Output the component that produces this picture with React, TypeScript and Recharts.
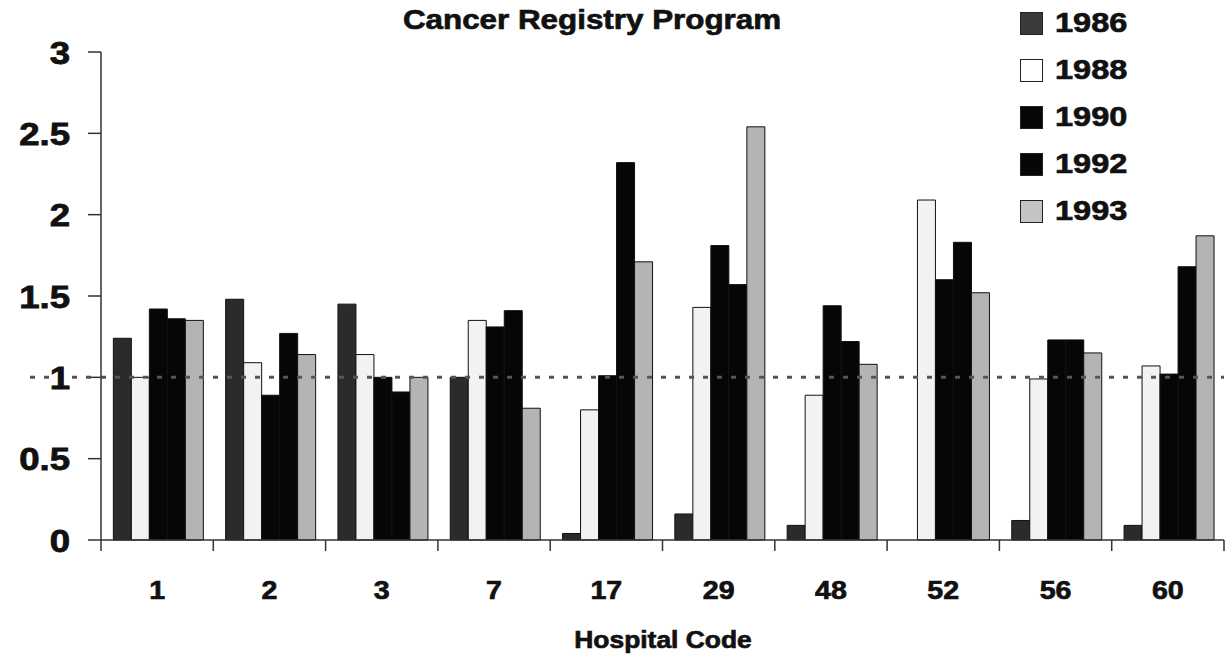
import React from 'react';
import { BarChart, Bar, XAxis, YAxis, ReferenceLine } from 'recharts';

// hospital codes along the x axis
const hospitals = ['1', '2', '3', '7', '17', '29', '48', '52', '56', '60'];
const years = ['1986', '1988', '1990', '1992', '1993'];

// ratio values per survey year
const v1986 = [1.24, 1.48, 1.45, 1.0, 0.04, 0.16, 0.09, 0, 0.12, 0.09];
const v1988 = [1.0, 1.09, 1.14, 1.35, 0.8, 1.43, 0.89, 2.09, 0.99, 1.07];
const v1990 = [1.42, 0.89, 1.0, 1.31, 1.01, 1.81, 1.44, 1.6, 1.23, 1.02];
const v1992 = [1.36, 1.27, 0.91, 1.41, 2.32, 1.57, 1.22, 1.83, 1.23, 1.68];
const v1993 = [1.35, 1.14, 1.0, 0.81, 1.71, 2.54, 1.08, 1.52, 1.15, 1.87];

const yTicks = [0, 0.5, 1, 1.5, 2, 2.5, 3];

const W = 1227;
const H = 658;
const LEFT = 101;
const RIGHT = 3;
const BW = (W - LEFT - RIGHT) / hospitals.length;
const FONT = '"Liberation Sans", Arial, Helvetica, sans-serif';

const fills = ['#2b2b2b', '#f2f2f2', '#060606', '#060606', '#b4b4b4'];
const swatch = ['#3a3a3a', '#ffffff', '#060606', '#060606', '#c4c4c4'];

const data = hospitals.map((h, i) => ({
  hospital: h,
  y1986: v1986[i],
  y1988: v1988[i],
  y1990: v1990[i],
  y1992: v1992[i],
  y1993: v1993[i],
}));

const XTick = (props: any) => {
  const { x, y, payload, index } = props;
  const left = x - BW / 2;
  const right = x + BW / 2;
  return (
    <g>
      <line x1={left} x2={left} y1={y} y2={y + 11} stroke="#333" strokeWidth={1.5} />
      {index === hospitals.length - 1 && (
        <line x1={right} x2={right} y1={y} y2={y + 11} stroke="#333" strokeWidth={1.5} />
      )}
      <text
        transform={`translate(${x},${y + 59}) scale(1.1,1)`}
        textAnchor="middle"
        fontSize={26}
        fontWeight="bold"
        fontFamily={FONT}
        fill="#111"
        stroke="#111"
        strokeWidth={0.7}
      >
        {payload.value}
      </text>
    </g>
  );
};

const YTick = (props: any) => {
  const { x, y, payload } = props;
  return (
    <g>
      {payload.value === 1 && (
        <line x1={30} x2={LEFT} y1={y} y2={y} stroke="#555" strokeWidth={3} strokeDasharray="5 9" />
      )}
      <text
        transform={`translate(${x},${y + 11.5}) scale(1.18,1)`}
        textAnchor="end"
        fontSize={31}
        fontWeight="bold"
        fontFamily={FONT}
        fill="#111"
        stroke="#111"
        strokeWidth={0.8}
      >
        {payload.value}
      </text>
    </g>
  );
};

const heavy = { WebkitTextStroke: '0.7px #111' } as React.CSSProperties;

export default function App() {
  return (
    <div style={{ position: 'absolute', left: 0, top: 0, width: W, height: H, overflow: 'hidden', background: '#fff' }}>
      <div
        style={{
          position: 'absolute',
          left: 0,
          width: 1184,
          top: 4,
          textAlign: 'center',
          fontFamily: FONT,
          fontWeight: 'bold',
          fontSize: 28,
          lineHeight: '32px',
          color: '#111',
          transform: 'scaleX(1.12)',
          transformOrigin: '592px 0',
          ...heavy,
        }}
      >
        Cancer Registry Program
      </div>

      <BarChart
        width={W}
        height={H}
        data={data}
        margin={{ top: 52, right: RIGHT, left: 0, bottom: 0 }}
        barCategoryGap="11%"
        barGap={0}
      >
        <YAxis
          width={LEFT}
          domain={[0, 3]}
          ticks={yTicks}
          interval={0}
          tickSize={13}
          tickMargin={18}
          tick={YTick}
          axisLine={{ stroke: '#333', strokeWidth: 1.5 }}
          tickLine={{ stroke: '#333', strokeWidth: 1.5 }}
        />
        <XAxis
          dataKey="hospital"
          height={118}
          interval={0}
          tickSize={0}
          tickMargin={0}
          tickLine={false}
          tick={XTick}
          axisLine={{ stroke: '#333', strokeWidth: 1.5 }}
        />
        {years.map((yr, i) => (
          <Bar
            key={yr}
            dataKey={`y${yr}`}
            name={yr}
            fill={fills[i]}
            stroke="#111"
            strokeWidth={1}
            isAnimationActive={false}
          />
        ))}
        <ReferenceLine y={1} stroke="#555" strokeWidth={3} strokeDasharray="5 9" />
      </BarChart>

      <div
        style={{
          position: 'absolute',
          left: 0,
          width: 1326,
          top: 628,
          textAlign: 'center',
          fontFamily: FONT,
          fontWeight: 'bold',
          fontSize: 24,
          lineHeight: '24px',
          color: '#111',
          transform: 'scaleX(1.1)',
          transformOrigin: '663px 0',
          ...heavy,
        }}
      >
        Hospital Code
      </div>

      <div style={{ position: 'absolute', left: 1020, top: 0 }}>
        {years.map((yr, i) => (
          <div
            key={yr}
            style={{ position: 'absolute', left: 0, top: 11 + i * 47, height: 24, width: 140, display: 'flex', alignItems: 'center' }}
          >
            <div
              style={{
                width: 21,
                height: 21,
                background: swatch[i],
                border: '1px solid #222',
                flex: 'none',
              }}
            />
            <span
              style={{
                marginLeft: 12,
                fontFamily: FONT,
                fontWeight: 'bold',
                fontSize: 28,
                lineHeight: '24px',
                color: '#111',
                display: 'inline-block',
                transform: 'scaleX(1.16)',
                transformOrigin: '0 50%',
                ...heavy,
              }}
            >
              {yr}
            </span>
          </div>
        ))}
      </div>
    </div>
  );
}
